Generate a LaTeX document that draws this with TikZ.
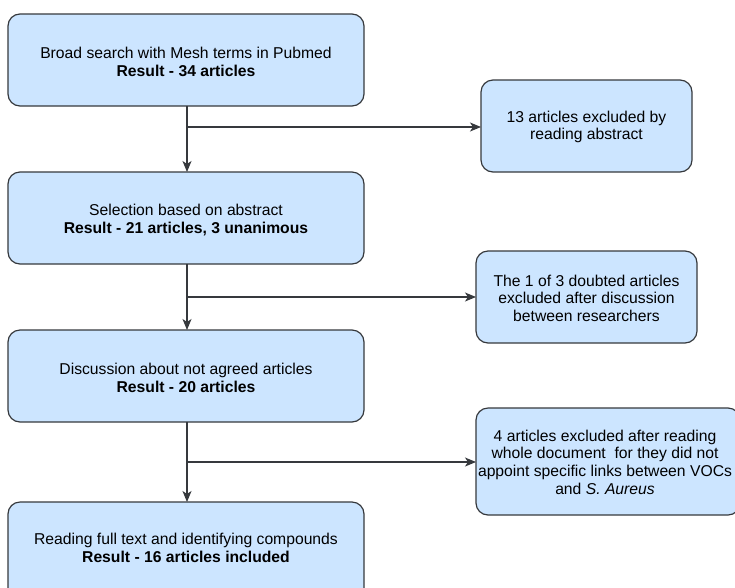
\documentclass[tikz,border=0pt]{standalone}
\usepackage{fontspec}
\setmainfont{Liberation Sans}
\usetikzlibrary{arrows.meta}
\definecolor{boxfill}{HTML}{CCE5FF}
\definecolor{boxline}{HTML}{36393D}
\tikzset{
  stepbox/.style={draw=boxline, fill=boxfill, line width=1.2pt, rounded corners=12pt},
  flow/.style={draw=boxline, line width=1.2pt, -{Stealth[length=11pt,width=9pt,inset=3pt]}},
  lbl/.style={align=center, font=\fontsize{15.7}{17.6}\selectfont, text=black, inner sep=0pt},
}
\begin{document}
\begin{tikzpicture}[x=1pt,y=-1pt]
\clip (0,0) rectangle (735,587);
\useasboundingbox (0,0) rectangle (735,587);
% main column
\draw[stepbox] (8,14) rectangle (364,106);
\node[lbl] (m1) at (186,62) {Broad search with Mesh terms in Pubmed\\\textbf{Result - 34 articles}};
\draw[stepbox] (8,172) rectangle (364,264);
\node[lbl] (m2) at (186,220) {Selection based on abstract\\\textbf{Result - 21 articles, 3 unanimous}};
\draw[stepbox] (8,330) rectangle (364,422);
\node[lbl] (m3) at (186,378) {Discussion about not agreed articles\\\textbf{Result - 20 articles}};
\draw[stepbox] (8,502) rectangle (364,610);
\node[lbl] (m4) at (186,548) {Reading full text and identifying compounds\\\textbf{Result - 16 articles included}};
% side column
\draw[stepbox] (481,80) rectangle (692,172);
\node[lbl] (s1) at (586.5,127) {13 articles excluded by\\reading abstract};
\draw[stepbox] (476,251) rectangle (697,343);
\node[lbl] (s2) at (586.5,298) {The 1 of 3 doubted articles\\excluded after discussion\\between researchers};
\draw[stepbox] (476,408) rectangle (740,515);
\node[lbl] (s3) at (605,462) {4 articles excluded after reading\\whole document\ \ for they did not\\appoint specific links between VOCs\\and \textit{S. Aureus}};
% anchor points on the box edges
\coordinate (b1) at (187,106);
\coordinate (t2) at (187,172);
\coordinate (b2) at (187,264);
\coordinate (t3) at (187,330);
\coordinate (b3) at (187,422);
\coordinate (t4) at (187,502);
\coordinate (j1) at (187,127);
\coordinate (j2) at (187,297);
\coordinate (j3) at (187,462);
\coordinate (e1) at (481,127);
\coordinate (e2) at (476,297);
\coordinate (e3) at (476,462);
% connectors
\draw[flow] (b1) -- (t2);
\draw[flow] (j1) -- (e1);
\draw[flow] (b2) -- (t3);
\draw[flow] (j2) -- (e2);
\draw[flow] (b3) -- (t4);
\draw[flow] (j3) -- (e3);
\end{tikzpicture}
\end{document}
